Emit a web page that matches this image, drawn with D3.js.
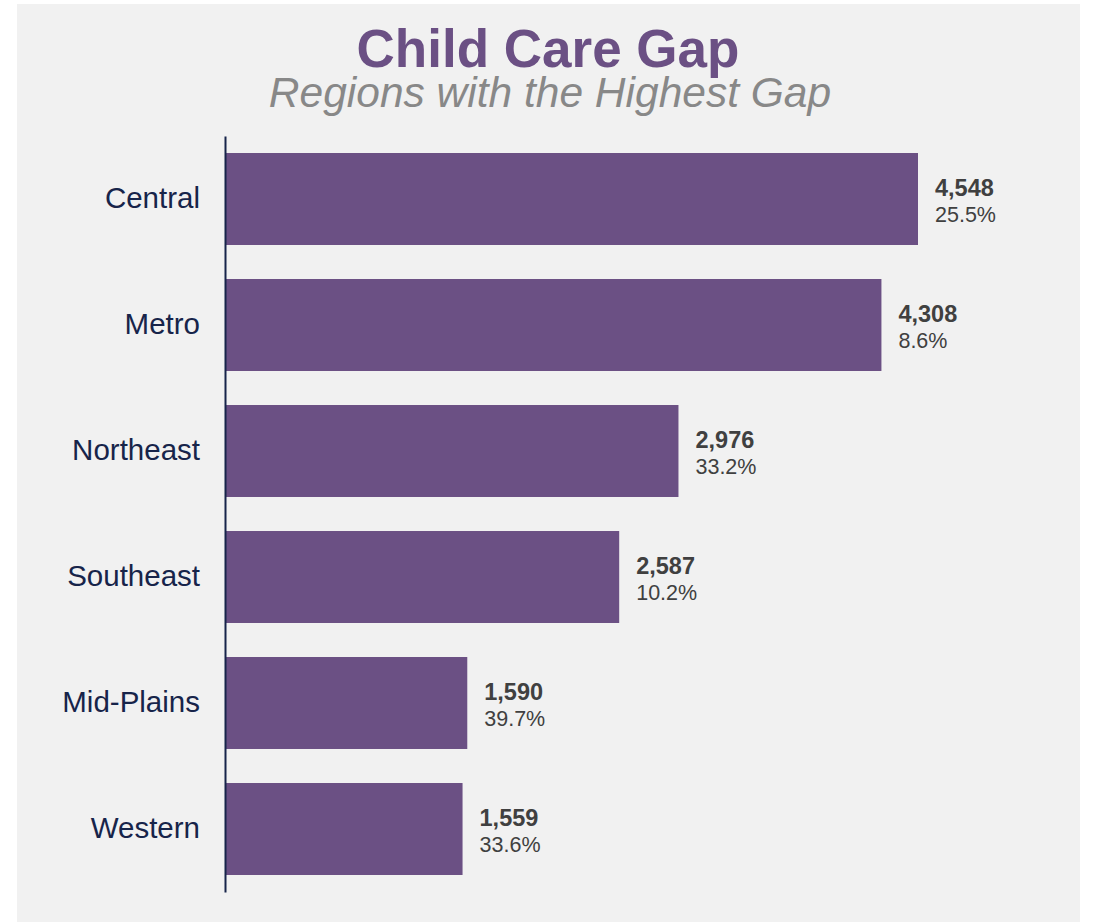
<!DOCTYPE html>
<html>
<head>
<meta charset="utf-8">
<script src="https://cdn.jsdelivr.net/npm/d3@7"></script>
<style>
  body { margin: 0; background: #ffffff; }
  text { font-family: "Liberation Sans", Arial, sans-serif; }
</style>
</head>
<body>
<div id="container"></div>
<script>
/* CONSTANTS AND GLOBALS */
const width = 1094,
  height = 922;

// data
const regions = ["Central", "Metro", "Northeast", "Southeast", "Mid-Plains", "Western"];
const gapCounts = [4548, 4308, 2976, 2587, 1590, 1559];
const gapPercents = ["25.5%", "8.6%", "33.2%", "10.2%", "39.7%", "33.6%"];

const data = regions.map((r, i) => ({ region: r, count: gapCounts[i], pct: gapPercents[i] }));

const barColor = "#6b5084",
  labelColor = "#17244a",
  valueColor = "#404040";

const svg = d3.select("#container")
  .append("svg")
  .attr("width", width)
  .attr("height", height);

// gray panel
svg.append("rect")
  .attr("x", 17)
  .attr("y", 4)
  .attr("width", 1063)
  .attr("height", 918)
  .attr("fill", "#f1f1f1");

/* SCALES */
const xScale = d3.scaleLinear()
  .domain([0, d3.max(gapCounts)])
  .range([225, 918]);

const yScale = d3.scaleBand()
  .domain(regions)
  .range([136, 892])
  .paddingInner(0.27)
  .paddingOuter(0.135);

/* TITLES */
svg.append("text")
  .attr("x", 548)
  .attr("y", 67)
  .attr("text-anchor", "middle")
  .attr("font-size", 53)
  .attr("font-weight", "bold")
  .attr("fill", "#6b5084")
  .text("Child Care Gap");

svg.append("text")
  .attr("x", 550)
  .attr("y", 107)
  .attr("text-anchor", "middle")
  .attr("font-size", 42.5)
  .attr("font-style", "italic")
  .attr("fill", "#888888")
  .text("Regions with the Highest Gap");

/* BARS */
svg.selectAll(".bar")
  .data(data)
  .join("rect")
  .attr("class", "bar")
  .attr("x", xScale(0))
  .attr("y", d => yScale(d.region))
  .attr("width", d => xScale(d.count) - xScale(0))
  .attr("height", yScale.bandwidth())
  .attr("fill", barColor);

/* Y AXIS */
const yAxis = d3.axisLeft(yScale).tickSize(0).tickPadding(25);
const gy = svg.append("g")
  .attr("class", "y-axis")
  .attr("transform", `translate(${xScale(0)}, 0)`)
  .call(yAxis);
gy.select(".domain")
  .attr("stroke", labelColor)
  .attr("stroke-width", 2);
gy.selectAll("text")
  .attr("font-size", 29.5)
  .attr("font-family", "'Liberation Sans', Arial, sans-serif")
  .attr("fill", labelColor);

/* VALUE LABELS */
const labels = svg.selectAll(".val")
  .data(data)
  .join("g")
  .attr("class", "val")
  .attr("transform", d => `translate(${xScale(d.count) + 17}, ${yScale(d.region) + yScale.bandwidth() / 2})`);

labels.append("text")
  .attr("y", -3.5)
  .attr("font-size", 23.5)
  .attr("font-weight", "bold")
  .attr("fill", valueColor)
  .text(d => d3.format(",")(d.count));

labels.append("text")
  .attr("y", 22.5)
  .attr("font-size", 21.5)
  .attr("fill", valueColor)
  .text(d => d.pct);
</script>
</body>
</html>
